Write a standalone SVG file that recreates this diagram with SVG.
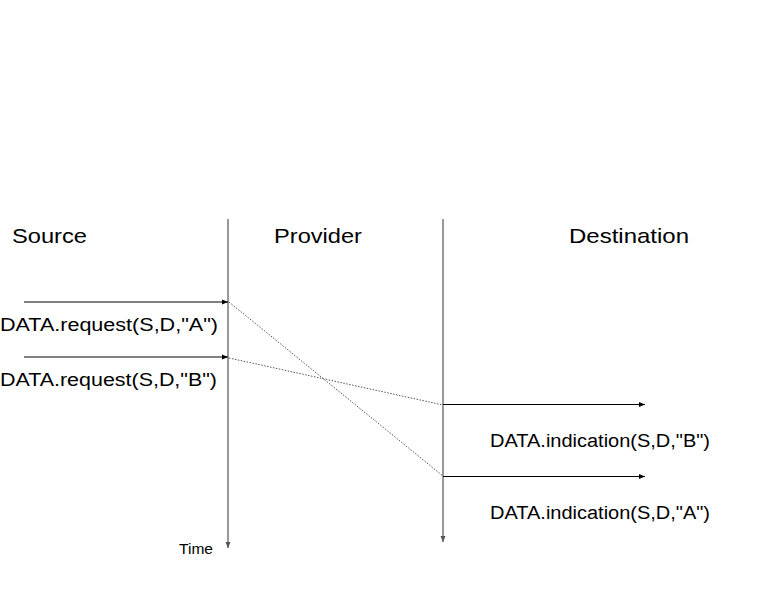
<svg xmlns="http://www.w3.org/2000/svg" width="758" height="593" viewBox="0 0 758 593">
<style>
.title{font-family:"Liberation Sans",Arial,sans-serif;font-size:21px;fill:#000}
.lbl{font-family:"Liberation Sans",Arial,sans-serif;font-size:18px;fill:#000}
.time{font-family:"Liberation Sans",Arial,sans-serif;font-size:14px;fill:#000}
.life{stroke:#777;stroke-width:1.5;fill:none}
.msg{stroke:#000;stroke-width:1;fill:none}
.dot{stroke:#555;stroke-width:1;stroke-dasharray:1.5 1.5;fill:none}
</style>
<defs>
<marker id="ah" markerWidth="7" markerHeight="6" refX="6" refY="3" orient="auto" markerUnits="userSpaceOnUse">
<path d="M0,0.5 L6,3 L0,5.5 Z" fill="#000"/>
</marker>
<marker id="ahg" markerWidth="7" markerHeight="6" refX="6" refY="3" orient="auto" markerUnits="userSpaceOnUse">
<path d="M0,0.5 L6,3 L0,5.5 Z" fill="#555"/>
</marker>
</defs>
<g id="source"><text class="title" x="12" y="243" textLength="75" lengthAdjust="spacingAndGlyphs">Source</text></g>
<g id="provider"><text class="title" x="274" y="243" textLength="88" lengthAdjust="spacingAndGlyphs">Provider</text>
<line class="life" x1="228" y1="219" x2="228" y2="548" marker-end="url(#ahg)"/></g>
<g id="destination"><text class="title" x="569" y="243" textLength="120" lengthAdjust="spacingAndGlyphs">Destination</text>
<line class="life" x1="443" y1="219" x2="443" y2="542" marker-end="url(#ahg)"/></g>
<g id="time"><text class="time" x="179" y="554" textLength="34" lengthAdjust="spacingAndGlyphs">Time</text></g>
<g id="connectors">
<line class="msg" x1="24" y1="302" x2="228" y2="302" marker-end="url(#ah)"/>
<line class="msg" x1="24" y1="357" x2="228" y2="357" marker-end="url(#ah)"/>
<line class="dot" x1="229" y1="302" x2="443" y2="476"/>
<line class="dot" x1="229" y1="358" x2="443" y2="405"/>
<line class="msg" x1="443" y1="404.5" x2="645" y2="404.5" marker-end="url(#ah)"/>
<line class="msg" x1="443" y1="476.5" x2="645" y2="476.5" marker-end="url(#ah)"/>
</g>
<g id="labels">
<text class="lbl" x="0" y="331" textLength="218" lengthAdjust="spacingAndGlyphs">DATA.request(S,D,"A")</text>
<text class="lbl" x="0" y="386" textLength="217" lengthAdjust="spacingAndGlyphs">DATA.request(S,D,"B")</text>
<text class="lbl" x="490" y="447" textLength="220" lengthAdjust="spacingAndGlyphs">DATA.indication(S,D,"B")</text>
<text class="lbl" x="490" y="519" textLength="220" lengthAdjust="spacingAndGlyphs">DATA.indication(S,D,"A")</text>
</g>
</svg>
